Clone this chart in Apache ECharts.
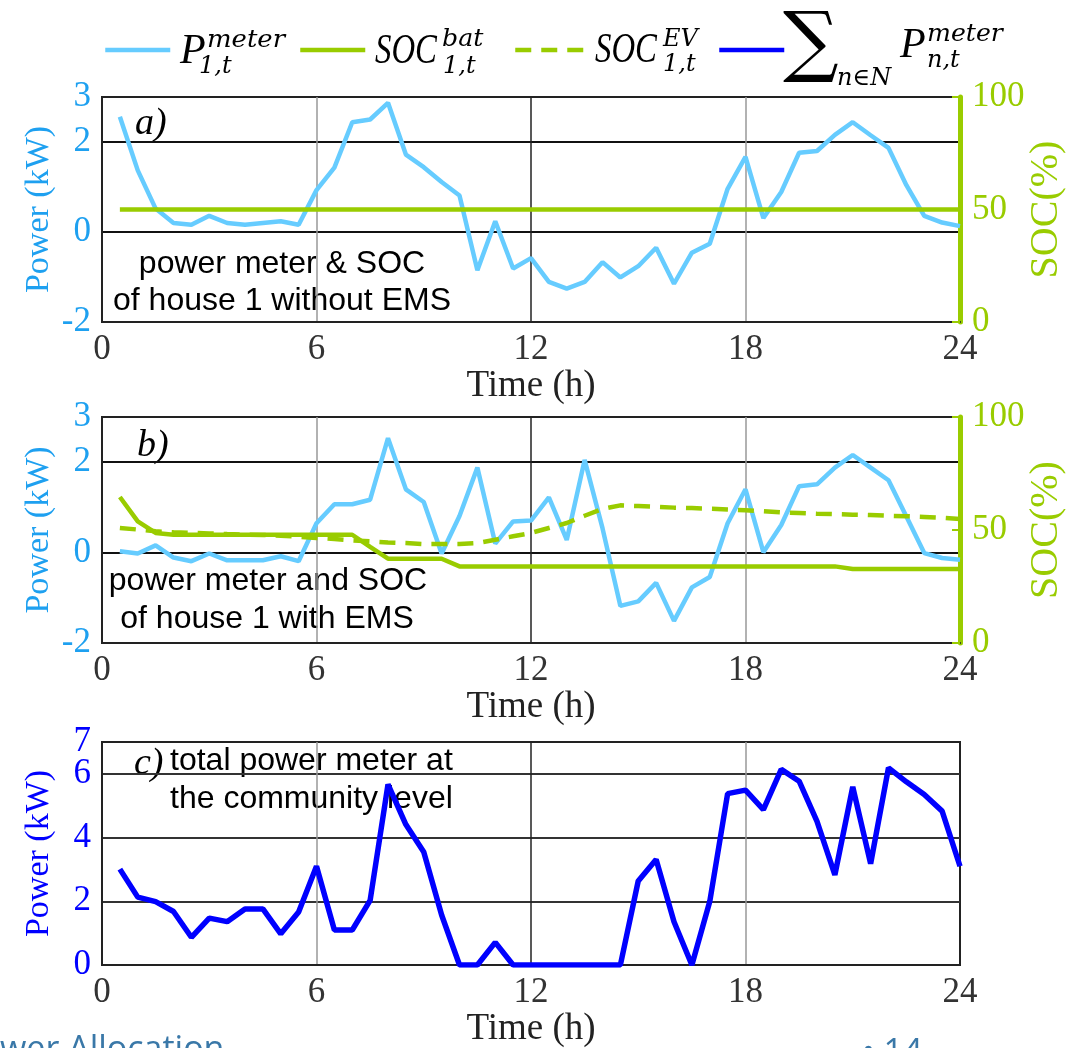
<!DOCTYPE html>
<html>
<head>
<meta charset="utf-8">
<script src="https://cdn.jsdelivr.net/npm/echarts@6/dist/echarts.min.js"></script>
<style>
html,body{margin:0;padding:0;background:#fff;overflow:hidden}
#c{width:1077px;height:1048px}
</style>
</head>
<body>
<div id="c"></div>
<script>
// ---- data (hours) ----
const hours = [0.5,1,1.5,2,2.5,3,3.5,4,4.5,5,5.5,6,6.5,7,7.5,8,8.5,9,9.5,10,10.5,11,11.5,12,
               12.5,13,13.5,14,14.5,15,15.5,16,16.5,17,17.5,18,18.5,19,19.5,20,20.5,21,21.5,22,22.5,23,23.5,24];

// a) house 1 without EMS
const pMeterNoEms = [2.56,1.37,0.52,0.2,0.16,0.36,0.2,0.16,0.2,0.24,0.16,0.93,
                     1.43,2.44,2.5,2.87,1.72,1.44,1.11,0.81,-0.85,0.24,-0.81,-0.58,
                     -1.11,-1.26,-1.11,-0.67,-1.01,-0.76,-0.35,-1.15,-0.46,-0.26,0.96,1.67,
                     0.31,0.89,1.76,1.8,2.16,2.44,2.15,1.87,1.04,0.36,0.21,0.13];
const socBatNoEms = [50,50,50,50,50,50,50,50,50,50,50,50,
                     50,50,50,50,50,50,50,50,50,50,50,50,
                     50,50,50,50,50,50,50,50,50,50,50,50,
                     50,50,50,50,50,50,50,50,50,50,50,50];

// b) house 1 with EMS
const pMeterEms = [0.03,-0.02,0.16,-0.11,-0.19,-0.02,-0.17,-0.17,-0.17,-0.08,-0.19,0.65,
                   1.07,1.07,1.17,2.53,1.40,1.12,-0.02,0.81,1.88,0.2,0.69,0.71,
                   1.22,0.28,2.05,0.54,-1.18,-1.08,-0.67,-1.51,-0.77,-0.54,0.65,1.40,
                   0.01,0.61,1.47,1.51,1.88,2.16,1.88,1.60,0.80,-0.01,-0.12,-0.16];
const socBatEms = [64.6,53.8,48.7,47.9,47.9,47.9,47.9,47.9,47.9,47.9,47.9,47.9,
                   47.9,47.9,42.5,37.3,37.3,37.3,37.3,33.9,33.9,33.9,33.9,33.9,
                   33.9,33.9,33.9,33.9,33.9,33.9,33.9,33.9,33.9,33.9,33.9,33.9,
                   33.9,33.9,33.9,33.9,33.9,32.7,32.7,32.7,32.7,32.7,32.7,32.7];
const socEvEms = [50.9,50.2,49.4,49.0,48.7,48.5,48.2,48.0,47.8,47.5,47.0,46.5,
                  46.0,45.4,45.0,44.5,44.2,43.8,43.8,43.8,44.2,45.7,47.2,48.7,
                  50.9,53.1,56.3,59.3,60.9,60.6,60.3,59.9,59.7,59.4,59.1,58.7,
                  58.3,57.8,57.5,57.2,57.0,56.8,56.6,56.3,56.1,55.8,55.4,54.9];

// c) total community power meter
const pTotal = [3.01,2.13,1.99,1.68,0.87,1.47,1.36,1.76,1.76,0.98,1.66,3.10,
                1.10,1.10,2.03,5.67,4.41,3.55,1.57,0,0,0.71,0,0,
                0,0,0,0,0,2.64,3.31,1.36,0,1.99,5.38,5.49,
                4.88,6.14,5.77,4.51,2.83,5.59,3.18,6.19,5.75,5.35,4.83,3.10];

// tick labels shown on the axes
const powerTicksAB = [-2,0,2,3];
const powerTicksC = [0,2,4,6];
const powerTopC = [7];
const socTicks = [0,50,100];
const timeTicks = [0,6,12,18,24];

// ---- styling ----
const C_LINE_LB = '#66ccff';
const C_LABEL_LB = '#1ea0f0';
const C_GREEN = '#99cc00';
const C_BLUE = '#0000ff';
const T = 'rgba(0,0,0,0)';
const SERIF = '"Liberation Serif", "Times New Roman", serif';
const SANS = '"Liberation Sans", Arial, sans-serif';

const pairs = (vals) => hours.map((h, i) => [h, vals[i]]);

const GRID_LEFT = 102, GRID_W = 858;
const grids = [
  {left: GRID_LEFT, top: 97, width: GRID_W, height: 225},
  {left: GRID_LEFT, top: 417, width: GRID_W, height: 226},
  {left: GRID_LEFT, top: 742, width: GRID_W, height: 223}
].map(g => Object.assign(g, {show: true, borderColor: '#222', borderWidth: 2, backgroundColor: T, containLabel: false, outerBoundsMode: 'none'}));

function xAx(gi) {
  return {
    type: 'value', gridIndex: gi, min: 0, max: 24, interval: 6,
    axisLine: {show: true, onZero: false, lineStyle: {color: '#222', width: 2}},
    axisTick: {show: false},
    axisLabel: {color: '#333', fontFamily: SERIF, fontSize: 35, margin: 10, hideOverlap: false,
      showMinLabel: true, showMaxLabel: true,
      formatter: v => timeTicks.includes(v) ? String(v) : ''},
    splitLine: {show: true, lineStyle: {color: [T, '#999', '#222', '#999', T], width: 1.5}},
    name: 'Time (h)', nameLocation: 'middle', nameGap: 44,
    nameTextStyle: {color: '#222', fontFamily: SERIF, fontSize: 37}
  };
}
function yPowerAB(gi) {
  return {
    type: 'value', gridIndex: gi, position: 'left', min: -2, max: 3, interval: 1,
    axisLine: {show: true, onZero: false, lineStyle: {color: '#222', width: 2}},
    axisTick: {show: false},
    axisLabel: {color: C_LABEL_LB, fontFamily: SERIF, fontSize: 35, margin: 11, hideOverlap: false,
      showMinLabel: true, showMaxLabel: true,
      formatter: v => powerTicksAB.includes(v) ? String(v) : ''},
    splitLine: {show: true, lineStyle: {color: [T, T, '#111', T, '#111', T], width: 2}},
    name: 'Power (kW)', nameLocation: 'middle', nameGap: 46, nameRotate: 90, nameMoveOverlap: false,
    nameTextStyle: {color: C_LABEL_LB, fontFamily: SERIF, fontSize: 34}
  };
}
function ySoc(gi) {
  return {
    type: 'value', gridIndex: gi, position: 'right', min: 0, max: 100, interval: 50,
    axisLine: {show: true, onZero: false, lineStyle: {color: C_GREEN, width: 5}},
    axisTick: {show: true, inside: true, length: 8, lineStyle: {color: C_GREEN, width: 2}},
    axisLabel: {color: C_GREEN, fontFamily: SERIF, fontSize: 35, margin: 12, hideOverlap: false,
      showMinLabel: true, showMaxLabel: true,
      formatter: v => socTicks.includes(v) ? String(v) : ''},
    splitLine: {show: false},
    name: 'SOC(%)', nameLocation: 'middle', nameGap: 66, nameRotate: 90, nameMoveOverlap: false,
    nameTextStyle: {color: C_GREEN, fontFamily: SERIF, fontSize: 40}
  };
}
const yPowerC = {
  type: 'value', gridIndex: 2, position: 'left', min: 0, max: 7, interval: 1,
  axisLine: {show: true, onZero: false, lineStyle: {color: '#222', width: 2}},
  axisTick: {show: false},
  axisLabel: {color: C_BLUE, fontFamily: SERIF, fontSize: 35, margin: 11,
    hideOverlap: false, showMinLabel: true, showMaxLabel: false,
    formatter: v => powerTicksC.includes(v) ? String(v) : ''},
  splitLine: {show: true, lineStyle: {color: [T, T, '#333', T, '#333', T, '#333', T], width: 2}},
  name: 'Power (kW)', nameLocation: 'middle', nameGap: 46, nameRotate: 90, nameMoveOverlap: false,
  nameTextStyle: {color: C_BLUE, fontFamily: SERIF, fontSize: 34}
};
// companion axis on the same grid that only carries the top "7" label
const yPowerCTop = {
  type: 'value', gridIndex: 2, position: 'left', min: 0, max: 7, interval: 7,
  axisLine: {show: false}, axisTick: {show: false}, splitLine: {show: false},
  axisLabel: {color: C_BLUE, fontFamily: SERIF, fontSize: 35, margin: 11,
    hideOverlap: false, showMinLabel: false, showMaxLabel: true,
    formatter: v => powerTopC.includes(v) ? String(v) : ''}
};

function lineSeries(name, xi, yi, vals, color, width, dashed) {
  return {
    name, type: 'line', xAxisIndex: xi, yAxisIndex: yi, data: pairs(vals),
    symbol: 'none', showSymbol: false, silent: true,
    lineStyle: {color, width, type: dashed ? [16, 10] : 'solid'},
    itemStyle: {color}
  };
}

function legendItem(name, left, width) {
  return {
    data: [name], left, top: 43, padding: 0, itemWidth: width, itemHeight: 14,
    formatter: () => '', selectedMode: false, textStyle: {fontSize: 1},
    itemStyle: {opacity: 0, color: T, borderColor: T, borderWidth: 0},
    lineStyle: {width: 4.5, opacity: 1}
  };
}

function txt(text, x, y, font, color, align, sx) {
  return {
    type: 'text', x, y, silent: true, scaleX: sx || 1,
    style: {text, font, fill: color, align: align || 'left', textAlign: align || 'left',
            verticalAlign: 'middle', textVerticalAlign: 'middle'}
  };
}
const MI = 'italic 42px ' + SERIF;
const SI = 'italic 24px "DejaVu Serif", serif';
const ANN = '32px ' + SANS;
const LAB = 'italic 38px ' + SERIF;

const graphics = [
  // legend labels (math text)
  txt('P', 180, 52, MI, '#000'),
  txt('meter', 207, 41, SI, '#000', 'left', 1.08),
  txt('1,t', 199, 67, SI, '#000'),
  txt('SOC', 375, 52, MI, '#000', 'left', 0.78),
  txt('bat', 442, 40, SI, '#000', 'left', 1.05),
  txt('1,t', 443, 67, SI, '#000'),
  txt('SOC', 595, 51, MI, '#000', 'left', 0.78),
  txt('EV', 663, 40, SI, '#000'),
  txt('1,t', 663, 65, SI, '#000'),
  txt('\u2211', 783, 47, '78px "DejaVu Serif", serif', '#000'),
  txt('n\u2208N', 837, 79, SI, '#000'),
  txt('P', 900, 46, MI, '#000'),
  txt('meter', 927, 35, SI, '#000', 'left', 1.05),
  txt('n,t', 927, 61, SI, '#000'),
  // panel annotations
  txt('a)', 135, 124, LAB, '#000'),
  txt('power meter & SOC', 282, 264, ANN, '#000', 'center'),
  txt('of house 1 without EMS', 282, 301, ANN, '#000', 'center'),
  txt('b)', 137, 446, LAB, '#000'),
  txt('power meter and SOC', 268, 581, ANN, '#000', 'center'),
  txt('of house 1 with EMS', 267, 619, ANN, '#000', 'center'),
  txt('c)', 134, 764, LAB, '#000'),
  txt('total power meter at', 170, 761, ANN, '#000'),
  txt('the community level', 170, 799, ANN, '#000'),
  // slide footer fragments
  txt('wer Allocation', 0, 1050, '34px "Open Sans", sans-serif', '#3a78a8'),
  txt('\u2022 14', 862, 1053, '34px "Open Sans", sans-serif', '#3a78a8')
];

const option = {
  animation: false,
  backgroundColor: '#fff',
  grid: grids,
  xAxis: [xAx(0), xAx(1), xAx(2)],
  yAxis: [yPowerAB(0), ySoc(0), yPowerAB(1), ySoc(1), yPowerC, yPowerCTop],
  legend: [
    legendItem('P1meter', 103, 65),
    legendItem('SOCbat', 298, 65),
    legendItem('SOCev', 513, 70),
    legendItem('Ptotal', 717, 65)
  ],
  series: [
    lineSeries('P1meter', 0, 0, pMeterNoEms, C_LINE_LB, 4.5, false),
    lineSeries('SOCbat', 0, 1, socBatNoEms, C_GREEN, 4.5, false),
    lineSeries('P1meter', 1, 2, pMeterEms, C_LINE_LB, 4.5, false),
    lineSeries('SOCbat', 1, 3, socBatEms, C_GREEN, 4.5, false),
    lineSeries('SOCev', 1, 3, socEvEms, C_GREEN, 4.5, true),
    lineSeries('Ptotal', 2, 4, pTotal, C_BLUE, 5.5, false)
  ],
  graphic: graphics
};

const chart = echarts.init(document.getElementById('c'));
chart.setOption(option);
</script>
</body>
</html>
